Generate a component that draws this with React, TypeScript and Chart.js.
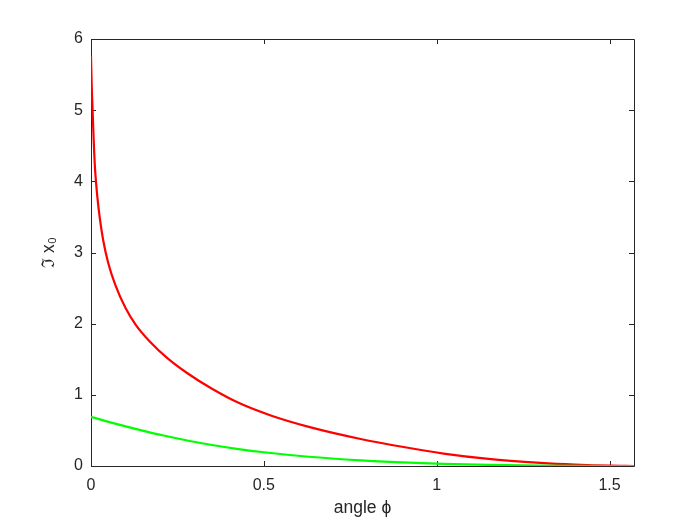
import React, { useEffect, useRef } from "react";
import { Chart, registerables } from "chart.js";

Chart.register(...registerables);

// Red curve: Im x0 vs angle phi
const phiRed = [0, 0.002, 0.005, 0.008, 0.012, 0.018, 0.025, 0.035, 0.05, 0.07, 0.1, 0.13, 0.17, 0.22, 0.28, 0.35, 0.43, 0.52, 0.63, 0.78, 0.9, 1.02, 1.15, 1.3, 1.4, 1.5, 1.5708];
const imRed = [5.76, 5.35, 4.95, 4.55, 4.15, 3.8, 3.5, 3.18, 2.85, 2.55, 2.22, 1.98, 1.75, 1.52, 1.3, 1.085, 0.88, 0.71, 0.55, 0.38, 0.27, 0.175, 0.1, 0.045, 0.02, 0.004, 0];

// Green curve
const phiGreen = [0, 0.07, 0.137, 0.21, 0.282, 0.35, 0.427, 0.5, 0.63, 0.78, 0.9, 1.02, 1.15, 1.3, 1.4, 1.5, 1.5708];
const imGreen = [0.69, 0.595, 0.512, 0.428, 0.355, 0.295, 0.238, 0.193, 0.13, 0.08, 0.052, 0.031, 0.016, 0.006, 0.002, 0.0003, 0];

const xTicks = [0, 0.5, 1, 1.5];
const yTicks = [0, 1, 2, 3, 4, 5, 6];
const xMax = Math.PI / 2;

const AXIS_COLOR = "#262626";

const boxPlugin = {
  id: "matlabBox",
  beforeDatasetsDraw(chart: any) {
    const { ctx, chartArea } = chart;
    const { left, right, top, bottom } = chartArea;
    const xs = chart.scales.x;
    const ys = chart.scales.y;
    ctx.save();
    ctx.strokeStyle = AXIS_COLOR;
    ctx.lineWidth = 1;
    ctx.beginPath();
    ctx.rect(Math.round(left) + 0.5, Math.round(top) + 0.5, Math.round(right - left), Math.round(bottom - top));
    ctx.stroke();
    const tl = 5;
    ctx.beginPath();
    for (const v of xTicks) {
      const px = Math.round(xs.getPixelForValue(v)) + 0.5;
      ctx.moveTo(px, bottom);
      ctx.lineTo(px, bottom - tl);
      ctx.moveTo(px, top);
      ctx.lineTo(px, top + tl);
    }
    for (const v of yTicks) {
      const py = Math.round(ys.getPixelForValue(v)) + 0.5;
      ctx.moveTo(left, py);
      ctx.lineTo(left + tl, py);
      ctx.moveTo(right, py);
      ctx.lineTo(right - tl, py);
    }
    ctx.stroke();
    ctx.restore();
  },
};

export default function App() {
  const ref = useRef<HTMLCanvasElement | null>(null);

  useEffect(() => {
    if (!ref.current) return;
    const chart = new Chart(ref.current, {
      type: "line",
      data: {
        datasets: [
          {
            label: "green",
            data: phiGreen.map((x, i) => ({ x, y: imGreen[i] })),
            borderColor: "#00ff00",
            borderWidth: 2.2,
            pointRadius: 0,
            fill: false,
            cubicInterpolationMode: "monotone",
          },
          {
            label: "red",
            data: phiRed.map((x, i) => ({ x, y: imRed[i] })),
            borderColor: "#ff0000",
            borderWidth: 2.2,
            pointRadius: 0,
            fill: false,
            cubicInterpolationMode: "monotone",
          },
        ],
      },
      options: {
        responsive: false,
        animation: false,
        events: [],
        layout: { padding: { left: 0, top: 39, right: 66, bottom: 0 } },
        plugins: { legend: { display: false }, tooltip: { enabled: false } },
        scales: {
          x: {
            type: "linear",
            min: 0,
            max: xMax,
            grid: { display: false, drawTicks: false },
            border: { display: false },
            afterBuildTicks: (scale: any) => {
              scale.ticks = xTicks.map((v) => ({ value: v }));
            },
            afterFit: (scale: any) => {
              scale.height = 59;
            },
            ticks: {
              padding: 10,
              color: AXIS_COLOR,
              font: { family: "'Liberation Sans', Arial, sans-serif", size: 16 },
              maxRotation: 0,
              callback: (v: any) => String(v),
            },
            title: {
              display: true,
              text: "angle ϕ",
              color: AXIS_COLOR,
              font: { family: "'Liberation Sans', Arial, sans-serif", size: 17.5 },
              padding: { top: 0, bottom: 6 },
            },
          },
          y: {
            type: "linear",
            min: 0,
            max: 6,
            grid: { display: false, drawTicks: false },
            border: { display: false },
            afterBuildTicks: (scale: any) => {
              scale.ticks = yTicks.map((v) => ({ value: v }));
            },
            afterFit: (scale: any) => {
              scale.width = 91;
            },
            ticks: {
              padding: 8,
              color: AXIS_COLOR,
              font: { family: "'Liberation Sans', Arial, sans-serif", size: 16 },
              callback: (v: any) => String(v),
            },
            title: {
              display: true,
              text: "ℑ x₀",
              color: AXIS_COLOR,
              font: { family: "'Liberation Sans', Arial, sans-serif", size: 17.5 },
              padding: { top: 39, bottom: 0 },
            },
          },
        },
      },
      plugins: [boxPlugin],
    });
    return () => chart.destroy();
  }, []);

  return (
    <div style={{ position: "fixed", left: 0, top: 0, width: 700, height: 525, background: "#ffffff" }}>
      <canvas ref={ref} width={700} height={525} />
    </div>
  );
}
